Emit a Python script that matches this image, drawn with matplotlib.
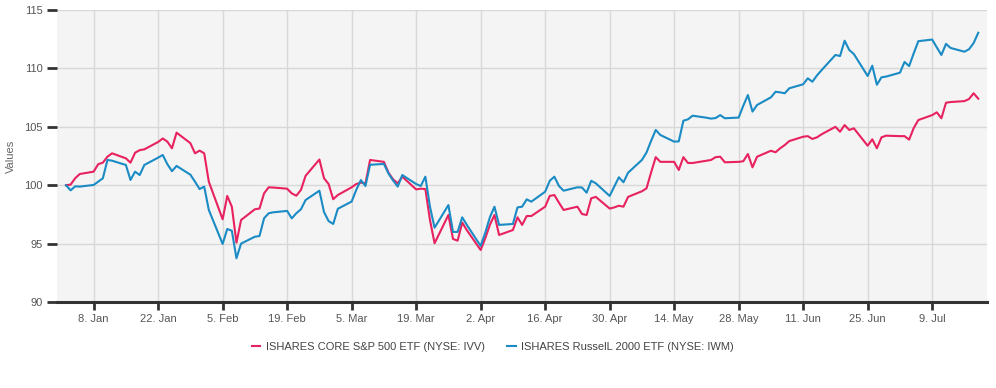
import pandas as pd
import matplotlib
matplotlib.use("Agg")
import matplotlib.pyplot as plt

plt.rcParams['font.family'] = ['Liberation Sans', 'DejaVu Sans']

# weekdays from 2 Jan 2018 to 19 Jul 2018
dates = pd.bdate_range("2018-01-02", "2018-07-19")

ivv = [
    # Jan
    100.0, 100.05, 100.6, 100.96, 101.16, 101.8, 101.93, 102.44, 102.73, 102.3, 101.93,
    102.78, 103.0, 103.07, 103.7, 104.0, 103.73, 103.16, 104.5, 103.6, 102.73, 102.96,
    # Feb
    102.73, 100.3, 97.08, 99.08, 98.16, 95.08, 97.02, 97.94, 98.0, 99.31, 99.82, 99.8,
    99.7, 99.3, 99.1, 99.6, 100.8, 102.2, 100.6, 100.1,
    # Mar
    98.8, 99.16, 99.82, 100.1, 100.22, 100.16, 102.16, 102.0, 101.07, 100.5, 100.16,
    100.73, 99.64, 99.7, 99.67, 97.02, 95.03, 97.45, 95.4, 95.25, 96.8, 96.15,
    # Apr
    94.45, 95.45, 96.6, 97.45, 95.74, 96.16, 97.25, 96.6, 97.36, 97.36, 98.16, 99.08,
    99.16, 98.5, 97.88, 98.16, 97.53, 97.45, 98.88, 99.0, 98.0,
    # May
    98.1, 98.24, 98.16, 99.0, 99.48, 99.73, 101.1, 102.4, 102.0, 102.0, 101.3, 102.4,
    101.9, 101.9, 102.1, 102.16, 102.4, 102.44, 101.96, 102.0, 102.05, 102.67, 101.53,
    # Jun
    102.44, 102.95, 102.82, 103.16, 103.44, 103.78, 104.15, 104.2, 103.96, 104.1, 104.36,
    105.0, 104.58, 105.15, 104.73, 104.87, 103.38, 103.93, 103.16, 104.1, 104.24,
    # Jul
    104.2, 104.2, 103.9, 104.9, 105.58, 106.0, 106.24, 105.73, 107.06, 107.12, 107.2,
    107.38, 107.87, 107.41,
]

iwm = [
    # Jan
    100.0, 99.56, 99.9, 99.88, 100.02, 100.3, 100.59, 102.16, 102.1, 101.73, 100.45,
    101.16, 100.87, 101.73, 102.36, 102.59, 101.8, 101.2, 101.65, 100.9, 100.3, 99.67,
    # Feb
    99.88, 97.88, 94.97, 96.25, 96.1, 93.74, 95.0, 95.59, 95.65, 97.17, 97.6, 97.68,
    97.8, 97.16, 97.6, 97.94, 98.73, 99.53, 97.7, 96.93,
    # Mar
    96.68, 97.98, 98.6, 99.6, 100.44, 99.93, 101.75, 101.82, 101.0, 100.4, 99.88,
    100.87, 100.1, 99.93, 100.73, 98.16, 96.36, 98.3, 96.0, 96.0, 97.25, 96.6,
    # Apr
    94.8, 95.93, 97.25, 98.16, 96.6, 96.68, 98.1, 98.16, 98.79, 98.59, 99.44, 100.38,
    100.73, 99.93, 99.53, 99.82, 99.8, 99.36, 100.38, 100.16, 99.08,
    # May
    99.88, 100.68, 100.25, 101.07, 102.16, 102.8, 103.8, 104.73, 104.3, 103.73, 103.75,
    105.52, 105.64, 105.95, 105.78, 105.7, 105.75, 106.0, 105.73, 105.79, 106.8, 107.72,
    106.3,
    # Jun
    106.87, 107.52, 108.0, 107.95, 107.87, 108.3, 108.64, 109.15, 108.86, 109.4, 109.85,
    111.15, 111.06, 112.37, 111.58, 111.23, 109.35, 110.23, 108.6, 109.24, 109.3,
    # Jul
    109.63, 110.55, 110.2, 111.3, 112.33, 112.47, 111.8, 111.15, 112.1, 111.75, 111.43,
    111.64, 112.17, 113.05,
]

labels = ["ISHARES CORE S&P 500 ETF (NYSE: IVV)", "ISHARES RusselL 2000 ETF (NYSE: IWM)"]
colors = ["#e8215f", "#1a8bc4"]

fig = plt.figure(figsize=(9.96, 3.88), dpi=100)
ax = fig.add_axes([57 / 996, 1 - 302 / 388, 930 / 996, 292 / 388])
ax.set_facecolor("#f4f4f4")

ax.plot(dates, ivv, color=colors[0], linewidth=1.5, label=labels[0], zorder=3)
ax.plot(dates, iwm, color=colors[1], linewidth=1.5, label=labels[1], zorder=3)

start = pd.Timestamp("2018-01-02")
ax.set_xlim(start - pd.Timedelta(days=1.95), start + pd.Timedelta(days=199.9))
ax.set_ylim(90, 115)
ax.set_yticks([90, 95, 100, 105, 110, 115])

ticks = pd.date_range("2018-01-08", "2018-07-20", freq="14D")
ax.set_xticks(ticks)
ax.set_xticklabels([f"{d.day}. {d.strftime('%b')}" for d in ticks])

ax.grid(True, color="#d8d8d8", linewidth=1)
ax.set_axisbelow(True)
for s in ["top", "right", "left"]:
    ax.spines[s].set_visible(False)
ax.spines["bottom"].set_color("#333333")
ax.spines["bottom"].set_linewidth(2.2)

ax.tick_params(axis="x", length=6, width=2, color="#333333", labelsize=8,
               labelcolor="#555555", pad=2.5)
ax.tick_params(axis="y", length=7.5, width=2, color="#333333", labelsize=8,
               labelcolor="#555555", pad=3)
ax.set_ylabel("Values", fontsize=8, color="#666666", labelpad=6)

fig.legend(loc="center", bbox_to_anchor=(0.495, 1 - 347 / 388), ncol=2, frameon=False,
           fontsize=8, handlelength=0.75, handletextpad=0.5, columnspacing=2.0,
           labelcolor="#444444")

fig.savefig("out.png", dpi=100)
